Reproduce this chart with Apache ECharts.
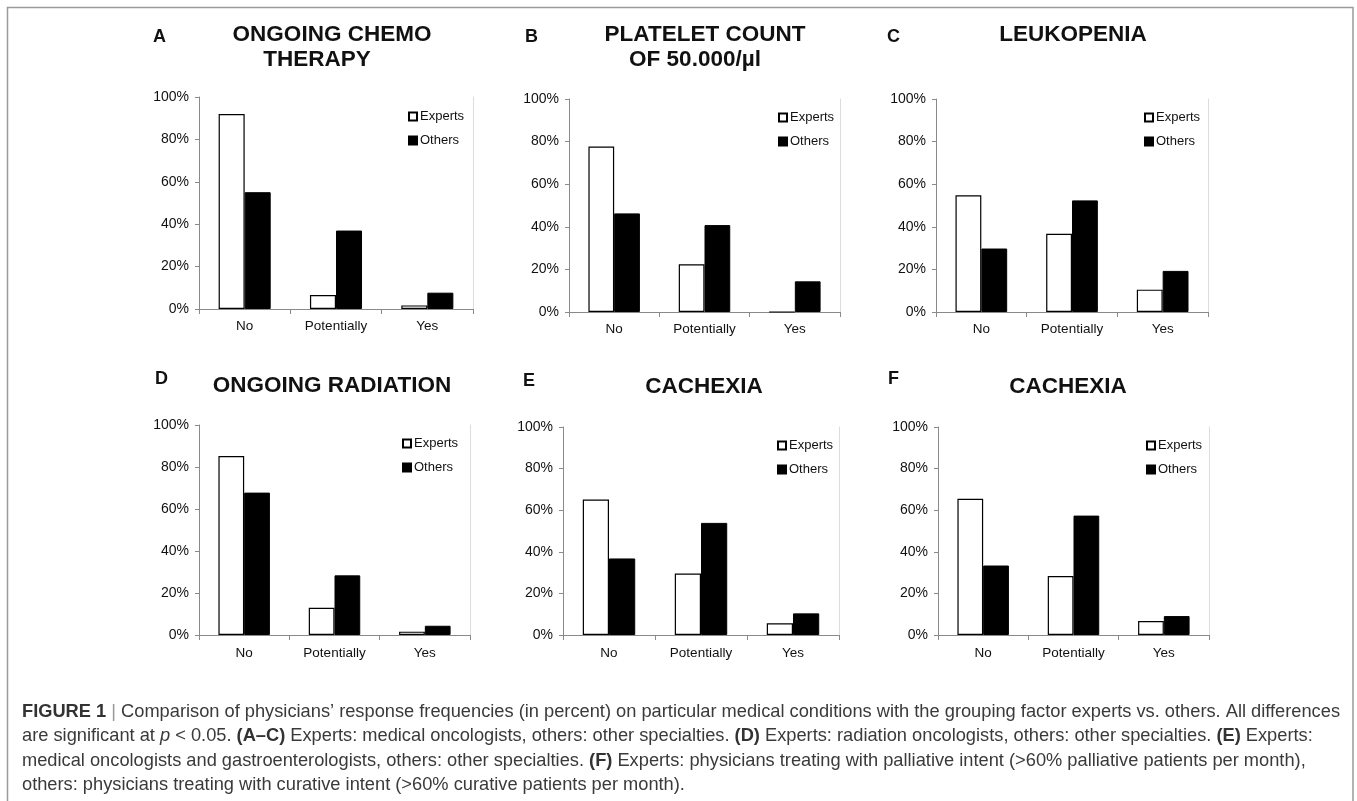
<!DOCTYPE html>
<html>
<head>
<meta charset="utf-8">
<script src="https://cdn.jsdelivr.net/npm/echarts@6/dist/echarts.min.js"></script>
<style>
html,body{margin:0;padding:0;background:#fff;}
#chart{width:1357px;height:801px;}
</style>
</head>
<body>
<div id="chart"></div>
<script>
// ---------- data ----------
const categories = ['No', 'Potentially', 'Yes'];
const yTickValues = [0, 20, 40, 60, 80, 100];
const seriesNames = ['Experts', 'Others'];
const panelLetters = ['A', 'B', 'C', 'D', 'E', 'F'];
const panelTitles = [
  ['ONGOING CHEMO', 'THERAPY'],
  ['PLATELET COUNT', 'OF 50.000/µl'],
  ['LEUKOPENIA'],
  ['ONGOING RADIATION'],
  ['CACHEXIA'],
  ['CACHEXIA']
];
const expertsA = [92.0, 6.6, 1.7];
const othersA  = [55.1, 37.0, 7.7];
const expertsB = [77.7, 22.4, 0];
const othersB  = [46.3, 40.8, 14.4];
const expertsC = [54.8, 36.7, 10.5];
const othersC  = [29.8, 52.4, 19.3];
const expertsD = [85.2, 13.0, 1.6];
const othersD  = [67.8, 28.4, 4.4];
const expertsE = [65.1, 29.6, 5.6];
const othersE  = [36.8, 53.9, 10.4];
const expertsF = [65.5, 28.4, 6.7];
const othersF  = [33.4, 57.4, 9.1];
const captionLines = [
  '{b|FIGURE 1} {bar||} Comparison of physicians’ response frequencies (in percent) on particular medical conditions with the grouping factor experts vs. others. All differences',
  'are significant at {i|p} < 0.05. {b|(A–C)} Experts: medical oncologists, others: other specialties. {b|(D)} Experts: radiation oncologists, others: other specialties. {b|(E)} Experts:',
  'medical oncologists and gastroenterologists, others: other specialties. {b|(F)} Experts: physicians treating with palliative intent (>60% palliative patients per month),',
  'others: physicians treating with curative intent (>60% curative patients per month).'
];

const expertsAll = [expertsA, expertsB, expertsC, expertsD, expertsE, expertsF];
const othersAll = [othersA, othersB, othersC, othersD, othersE, othersF];

// ---------- layout ----------
const grids = [
  {left: 199, top: 97,  width: 274, height: 212},
  {left: 569, top: 99,  width: 271, height: 213},
  {left: 936, top: 99,  width: 272, height: 213},
  {left: 199, top: 425, width: 271, height: 210},
  {left: 563, top: 427, width: 276, height: 208},
  {left: 938, top: 427, width: 271, height: 208}
];
const titlePos = [
  [[332, 35], [317, 60]],
  [[705, 35], [695, 60]],
  [[1073, 35]],
  [[332, 386]],
  [[704, 387]],
  [[1068, 387]]
];
const letterPos = [[153, 37], [525, 37], [887, 37], [155, 379], [523, 381], [888, 379]];
const legendPos = [[408, 110], [778, 111], [1144, 111], [402, 437], [777, 439], [1146, 439]];

const FONT = '"Liberation Sans", Arial, Helvetica, sans-serif';
const AXIS_COLOR = '#8a8a8a';

const option = {
  animation: false,
  backgroundColor: '#fff',
  grid: grids.map(g => Object.assign({containLabel: false}, g)),
  legend: legendPos.map((p, i) => ({
    left: p[0], top: p[1], orient: 'vertical',
    data: seriesNames,
    itemWidth: 8, itemHeight: 8, itemGap: 11,
    icon: 'rect',
    selectedMode: false,
    textStyle: {fontFamily: FONT, fontSize: 13, color: '#111', padding: [0, 0, 0, -2]},
    padding: 0
  })),
  xAxis: grids.map((g, i) => ({
    type: 'category', gridIndex: i, data: categories,
    axisLine: {lineStyle: {color: AXIS_COLOR, width: 1}},
    axisTick: {show: true, length: 5, lineStyle: {color: AXIS_COLOR}},
    axisLabel: {fontFamily: FONT, fontSize: 13.5, color: '#111', margin: i < 3 ? 10 : 11},
    splitLine: {show: false}
  })),
  yAxis: [],
  series: [],
  graphic: []
};

grids.forEach((g, i) => {
  option.yAxis.push({
    type: 'value', gridIndex: i, min: 0, max: 100, interval: 20, position: 'left',
    axisLine: {show: true, lineStyle: {color: AXIS_COLOR, width: 1}},
    axisTick: {show: true, length: 4, lineStyle: {color: AXIS_COLOR}},
    axisLabel: {fontFamily: FONT, fontSize: 14, color: '#111', margin: 10,
      formatter: v => (yTickValues.indexOf(v) >= 0 ? v + '%' : '')},
    splitLine: {show: false}
  });
  option.yAxis.push({
    type: 'value', gridIndex: i, min: 0, max: 100, interval: 20, position: 'right',
    axisLine: {show: true, lineStyle: {color: '#dcdcdc', width: 1}},
    axisTick: {show: false}, axisLabel: {show: false}, splitLine: {show: false}
  });
  option.series.push({
    name: seriesNames[0], type: 'bar', xAxisIndex: i, yAxisIndex: 2 * i,
    data: expertsAll[i], barGap: '0%', barCategoryGap: '43%',
    itemStyle: {color: '#ffffff', borderColor: '#000', borderWidth: 1.2}
  });
  option.series.push({
    name: seriesNames[1], type: 'bar', xAxisIndex: i, yAxisIndex: 2 * i,
    data: othersAll[i], barGap: '0%', barCategoryGap: '43%',
    itemStyle: {color: '#000000', borderColor: '#000', borderWidth: 1}
  });
  panelTitles[i].forEach((t, k) => {
    option.graphic.push({
      type: 'text', x: titlePos[i][k][0], y: titlePos[i][k][1],
      style: {text: t, font: 'bold 22.5px ' + FONT, fill: '#111', textAlign: 'center', textVerticalAlign: 'middle'}
    });
  });
  option.graphic.push({
    type: 'text', x: letterPos[i][0], y: letterPos[i][1],
    style: {text: panelLetters[i], font: 'bold 18px ' + FONT, fill: '#111', textAlign: 'left', textVerticalAlign: 'middle'}
  });
});

// frame
option.graphic.push({
  type: 'rect', shape: {x: 7.5, y: 7.5, width: 1345.5, height: 820},
  style: {fill: 'none', stroke: '#9a9a9a', lineWidth: 1.5}, silent: true
});

// caption
option.graphic.push({
  type: 'text', x: 22, y: 699.5,
  style: {
    text: captionLines.join('\n'),
    font: '18.25px ' + FONT, fill: '#3a3a3a', lineHeight: 24.5,
    rich: {
      b: {fontFamily: FONT, fontSize: 18.25, fontWeight: 'bold', fill: '#333', lineHeight: 24.5},
      i: {fontFamily: FONT, fontSize: 18.25, fontStyle: 'italic', fill: '#3a3a3a', lineHeight: 24.5},
      bar: {fontFamily: FONT, fontSize: 18.25, fill: '#999', lineHeight: 24.5}
    }
  }
});

const chart = echarts.init(document.getElementById('chart'));
chart.setOption(option);
</script>
</body>
</html>
